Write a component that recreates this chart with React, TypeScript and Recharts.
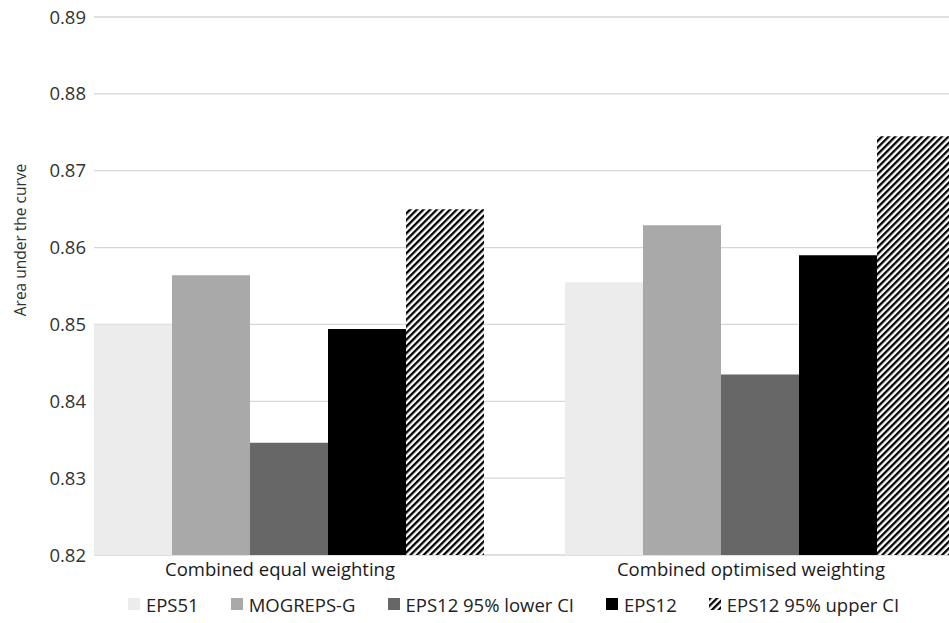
import { BarChart, Bar, XAxis, YAxis, CartesianGrid, Legend, Label } from "recharts"

const categories = ["Combined equal weighting", "Combined optimised weighting"]
const eps51 = [0.85, 0.8555]
const mogreps = [0.8564, 0.8629]
const eps12Lower = [0.8346, 0.8435]
const eps12 = [0.8494, 0.859]
const eps12Upper = [0.865, 0.8745]
const yTicks = [0.82, 0.83, 0.84, 0.85, 0.86, 0.87, 0.88, 0.89]

const data = categories.map((name, i) => ({
  name,
  eps51: eps51[i],
  mogreps: mogreps[i],
  lower: eps12Lower[i],
  eps12: eps12[i],
  upper: eps12Upper[i],
}))

const series = [
  { key: "eps51", name: "EPS51", fill: "#ececec" },
  { key: "mogreps", name: "MOGREPS-G", fill: "#a9a9a9" },
  { key: "lower", name: "EPS12 95% lower CI", fill: "#676767" },
  { key: "eps12", name: "EPS12", fill: "#000000" },
  { key: "upper", name: "EPS12 95% upper CI", fill: "url(#hatch)" },
]

const font = "'Open Sans', sans-serif"

function LegendContent() {
  return (
    <div style={{ display: "flex", justifyContent: "center", alignItems: "center", height: 38, paddingLeft: 110, fontFamily: font, fontSize: 18.5, color: "#222" }}>
      {series.map((s) => (
        <div key={s.key} style={{ display: "flex", alignItems: "center", marginRight: 32 }}>
          <svg width={12} height={12} style={{ marginRight: 6 }}>
            <rect width={12} height={12} fill={s.fill} />
          </svg>
          <span>{s.name}</span>
        </div>
      ))}
    </div>
  )
}

function YLabel({ viewBox }: any) {
  const x = 20
  const y = viewBox.y + viewBox.height / 2 - 46
  return (
    <text x={x} y={y} transform={`rotate(-90, ${x}, ${y})`} textAnchor="middle" dominantBaseline="central" fontFamily={font} fontSize={15.5} fill="#333">
      Area under the curve
    </text>
  )
}

export default function App() {
  return (
    <div style={{ position: "absolute", left: 0, top: 0 }}>
      <BarChart width={949} height={623} data={data} margin={{ top: 17, right: 0, left: 0, bottom: 0 }} barCategoryGap={39.5} barGap={0}>
        <defs>
          <pattern id="hatch" patternUnits="userSpaceOnUse" width={4.7} height={4.7} patternTransform="rotate(45)">
            <rect width={4.7} height={4.7} fill="#ffffff" />
            <rect width={2.3} height={4.7} fill="#000000" />
          </pattern>
        </defs>
        <CartesianGrid vertical={false} stroke="#d6d6d6" strokeWidth={1.3} />
        <XAxis
          dataKey="name"
          height={30}
          axisLine={false}
          tickLine={false}
          padding={{ left: -39.5, right: -47.5 }}
          tick={{ fontFamily: font, fontSize: 18.5, fill: "#1a1a1a", dx: -10 }}
        />
        <YAxis
          width={94}
          domain={[0.82, 0.89]}
          ticks={yTicks}
          allowDataOverflow
          axisLine={false}
          tickLine={false}
          tickFormatter={(v: number) => v.toFixed(2)}
          tick={{ fontFamily: font, fontSize: 18.5, fill: "#333" }}
        >
          <Label content={<YLabel />} />
        </YAxis>
        <Legend verticalAlign="bottom" height={38} content={<LegendContent />} />
        {series.map((s) => (
          <Bar key={s.key} dataKey={s.key} name={s.name} fill={s.fill} isAnimationActive={false} />
        ))}
      </BarChart>
    </div>
  )
}
